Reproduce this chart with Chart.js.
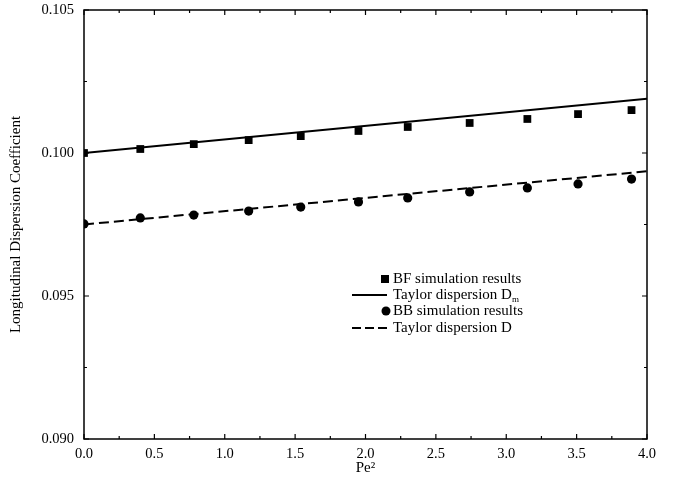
<!DOCTYPE html>
<html>
<head>
<meta charset="utf-8">
<script src="https://cdn.jsdelivr.net/npm/chart.js@4"></script>
<style>
  html, body { margin: 0; padding: 0; background: #fff; }
  #wrap { width: 681px; height: 483px; }
</style>
</head>
<body>
<div id="wrap"><canvas id="c" width="681" height="483"></canvas></div>
<script>
// Data
const peSquared = [0, 0.40, 0.78, 1.17, 1.54, 1.95, 2.30, 2.74, 3.15, 3.51, 3.89];
const bfSimulation = [0.10000, 0.10014, 0.10031, 0.10045, 0.10059, 0.10077, 0.10091, 0.10105, 0.10119, 0.10136, 0.10150];
const bbSimulation = [0.09752, 0.09773, 0.09783, 0.09797, 0.09811, 0.09829, 0.09843, 0.09864, 0.09878, 0.09892, 0.09909];
const taylorX = [0.0, 4.0];
const taylorDm = [0.10000, 0.10190];
const taylorD = [0.09750, 0.09936];
const xTicks = [0.0, 0.5, 1.0, 1.5, 2.0, 2.5, 3.0, 3.5, 4.0];
const yTicks = [0.090, 0.095, 0.100, 0.105];
const legendLabels = ["BF simulation results", "Taylor dispersion D", "BB simulation results", "Taylor dispersion D"];

const FONT = "'Liberation Serif', 'Times New Roman', serif";
const pts = (xs, ys) => xs.map((x, i) => ({ x: x, y: ys[i] }));

const frameTicks = {
  id: 'frameTicks',
  afterDraw(chart) {
    const { ctx, chartArea: a, scales } = chart;
    const xs = scales.x, ys = scales.y;
    ctx.save();
    ctx.strokeStyle = '#000';
    ctx.lineWidth = 1.5;
    ctx.strokeRect(a.left, a.top, a.right - a.left, a.bottom - a.top);
    ctx.lineWidth = 1.2;
    ctx.beginPath();
    for (let i = 0; i < xTicks.length; i++) {
      const px = xs.getPixelForValue(xTicks[i]);
      ctx.moveTo(px, a.bottom); ctx.lineTo(px, a.bottom - 5);
      ctx.moveTo(px, a.top); ctx.lineTo(px, a.top + 5);
      if (i < xTicks.length - 1) {
        const mx = xs.getPixelForValue((xTicks[i] + xTicks[i + 1]) / 2);
        ctx.moveTo(mx, a.bottom); ctx.lineTo(mx, a.bottom - 3);
        ctx.moveTo(mx, a.top); ctx.lineTo(mx, a.top + 3);
      }
    }
    for (let i = 0; i < yTicks.length; i++) {
      const py = ys.getPixelForValue(yTicks[i]);
      ctx.moveTo(a.left, py); ctx.lineTo(a.left + 5, py);
      ctx.moveTo(a.right, py); ctx.lineTo(a.right - 5, py);
      if (i < yTicks.length - 1) {
        const my = ys.getPixelForValue((yTicks[i] + yTicks[i + 1]) / 2);
        ctx.moveTo(a.left, my); ctx.lineTo(a.left + 3, my);
        ctx.moveTo(a.right, my); ctx.lineTo(a.right - 3, my);
      }
    }
    ctx.stroke();

    // Legend
    const lx = 385, ty = [279, 295, 311, 328], tx = 393;
    ctx.fillStyle = '#000';
    ctx.font = '15px ' + FONT;
    ctx.textBaseline = 'middle';
    ctx.textAlign = 'left';
    ctx.fillRect(lx - 4, ty[0] - 4, 8, 8);
    ctx.fillText(legendLabels[0], tx, ty[0]);
    ctx.lineWidth = 2;
    ctx.setLineDash([]);
    ctx.beginPath(); ctx.moveTo(352, ty[1]); ctx.lineTo(lx + 2, ty[1]); ctx.stroke();
    ctx.fillText(legendLabels[1], tx, ty[1]);
    const w1 = ctx.measureText(legendLabels[1]).width;
    ctx.font = '9px ' + FONT;
    ctx.fillText('m', tx + w1, ty[1] + 5);
    ctx.font = '15px ' + FONT;
    ctx.beginPath(); ctx.arc(lx + 1, ty[2], 4.5, 0, Math.PI * 2); ctx.fill();
    ctx.fillText(legendLabels[2], tx, ty[2]);
    ctx.setLineDash([9, 4]);
    ctx.beginPath(); ctx.moveTo(352, ty[3]); ctx.lineTo(lx + 2, ty[3]); ctx.stroke();
    ctx.setLineDash([]);
    ctx.fillText(legendLabels[3], tx, ty[3]);
    ctx.restore();
  }
};

new Chart(document.getElementById('c'), {
  type: 'scatter',
  data: {
    datasets: [
      { label: 'BF simulation results', data: pts(peSquared, bfSimulation), pointStyle: 'rect', pointRadius: 5.5, backgroundColor: '#000', borderColor: '#000', borderWidth: 0, order: 0 },
      { label: 'BB simulation results', data: pts(peSquared, bbSimulation), pointStyle: 'circle', pointRadius: 4.6, backgroundColor: '#000', borderColor: '#000', borderWidth: 0, order: 0 },
      { label: 'Taylor dispersion Dm', data: pts(taylorX, taylorDm), showLine: true, pointRadius: 0, borderColor: '#000', borderWidth: 2, order: 1 },
      { label: 'Taylor dispersion D', data: pts(taylorX, taylorD), showLine: true, pointRadius: 0, borderColor: '#000', borderWidth: 2, borderDash: [10, 5], order: 1 }
    ]
  },
  options: {
    responsive: false,
    animation: false,
    devicePixelRatio: 1,
    layout: { padding: { left: 0, right: 34, top: 10, bottom: 0 } },
    plugins: { legend: { display: false }, tooltip: { enabled: false } },
    scales: {
      x: {
        type: 'linear', min: 0, max: 4,
        afterBuildTicks: (s) => { s.ticks = xTicks.map(v => ({ value: v })); },
        afterFit: (s) => { s.height = 44; s.paddingLeft = 0; s.paddingRight = 0; },
        grid: { display: false, drawTicks: false },
        border: { display: false },
        ticks: { padding: 6, color: '#000', font: { family: FONT, size: 14.5 }, callback: v => Number(v).toFixed(1), maxRotation: 0, autoSkip: false },
        title: { display: true, text: 'Pe²', color: '#000', font: { family: FONT, size: 15 }, padding: { top: 0, bottom: 6 } }
      },
      y: {
        type: 'linear', min: 0.090, max: 0.105,
        afterBuildTicks: (s) => { s.ticks = yTicks.map(v => ({ value: v })); },
        afterFit: (s) => { s.width = 84; s.paddingTop = 0; s.paddingBottom = 0; },
        grid: { display: false, drawTicks: false },
        border: { display: false },
        ticks: { padding: 10, color: '#000', font: { family: FONT, size: 14.5 }, callback: v => Number(v).toFixed(3), autoSkip: false },
        title: { display: true, text: 'Longitudinal Dispersion Coefficient', color: '#000', font: { family: FONT, size: 15 }, padding: { top: 7, bottom: 0 } }
      }
    }
  },
  plugins: [frameTicks]
});
</script>
</body>
</html>
